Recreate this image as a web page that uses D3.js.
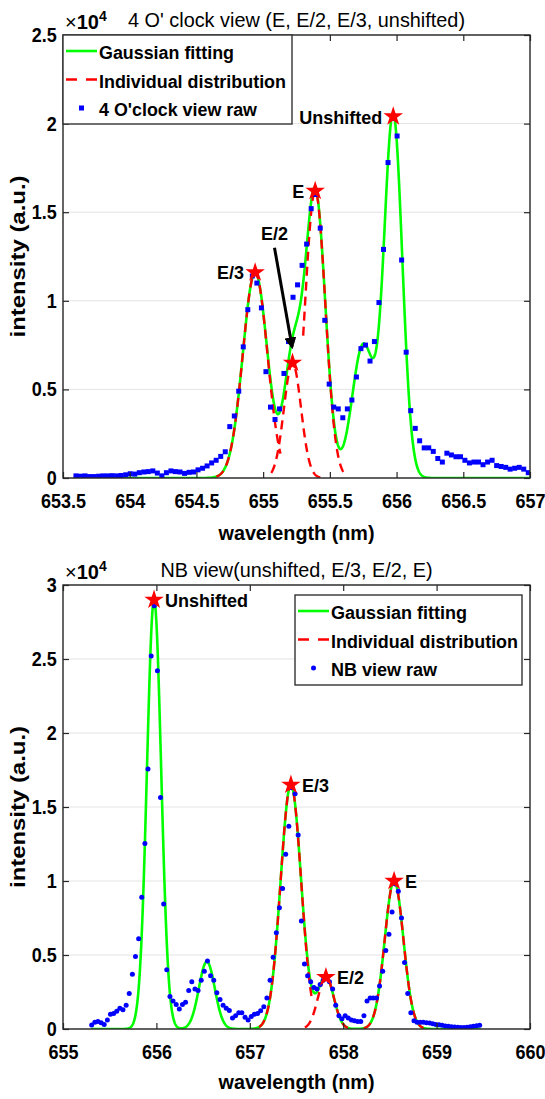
<!DOCTYPE html>
<meta charset="utf-8">
<style>
  body { margin: 0; background: #fff; }
  svg { display: block; font-family: "Liberation Sans", Arial, sans-serif; }
  .tick line { stroke: #262626; stroke-width: 1.2; }
  .tick text { font-weight: bold; font-size: 20px; fill: #000; }
  .grid line { stroke: #e3e3e3; stroke-width: 1; }
  .box { fill: none; stroke: #262626; stroke-width: 1.4; }
  .fit { fill: none; stroke: #00ff00; stroke-width: 2.6; }
  .part { fill: none; stroke: #ff0000; stroke-width: 2.4; stroke-dasharray: 9,6; }
  .legend rect.frame { fill: #fff; stroke: #333; stroke-width: 1.4; }
  .legend text { font-weight: bold; font-size: 18px; }
  .peak { font-weight: bold; font-size: 18px; }
  .title { font-size: 20px; }
  .label { font-weight: bold; font-size: 21px; }
</style>
<body>
<script src="https://d3js.org/d3.v7.min.js"></script>
<script>

// ---- 4 O'clock view (top panel), intensity in units of 1e4 ----
var topWave = [653.597, 653.631, 653.665, 653.699, 653.733, 653.767, 653.800, 653.834, 653.868, 653.902,
  653.936, 653.970, 654.004, 654.038, 654.072, 654.106, 654.139, 654.173, 654.207, 654.241,
  654.275, 654.309, 654.343, 654.377, 654.411, 654.445, 654.478, 654.512, 654.546, 654.580,
  654.614, 654.648, 654.682, 654.716, 654.750, 654.784, 654.817, 654.851, 654.885, 654.919,
  654.953, 654.987, 655.021, 655.055, 655.089, 655.123, 655.156, 655.190, 655.224, 655.258,
  655.292, 655.326, 655.360, 655.394, 655.428, 655.462, 655.495, 655.529, 655.563, 655.597,
  655.631, 655.665, 655.699, 655.733, 655.767, 655.801, 655.834, 655.868, 655.902, 655.936,
  655.970, 656.004, 656.038, 656.072, 656.106, 656.140, 656.173, 656.207, 656.241, 656.275,
  656.309, 656.343, 656.377, 656.411, 656.445, 656.479, 656.512, 656.546, 656.580, 656.614,
  656.648, 656.682, 656.716, 656.750, 656.784, 656.818, 656.851, 656.885, 656.919, 656.953,
  656.987];
var topRaw = [0.012, 0.010, 0.012, 0.008, 0.008, 0.010, 0.012, 0.012, 0.013, 0.012,
  0.014, 0.018, 0.024, 0.022, 0.030, 0.034, 0.036, 0.040, 0.028, 0.012,
  0.030, 0.040, 0.036, 0.034, 0.026, 0.032, 0.034, 0.046, 0.055, 0.068,
  0.085, 0.100, 0.122, 0.148, 0.290, 0.350, 0.490, 0.740, 0.950, 1.140,
  1.100, 0.960, 0.600, 0.400, 0.330, 0.390, 0.590, 0.770, 1.020, 1.090,
  1.200, 1.320, 1.520, 1.600, 1.410, 0.890, 0.530, 0.400, 0.390, 0.340,
  0.390, 0.440, 0.570, 0.730, 0.750, 0.660, 0.770, 0.990, 1.290, 1.780,
  2.030, 1.930, 1.230, 0.710, 0.380, 0.280, 0.210, 0.170, 0.170, 0.150,
  0.110, 0.090, 0.140, 0.130, 0.120, 0.120, 0.100, 0.085, 0.090, 0.090,
  0.075, 0.090, 0.100, 0.070, 0.065, 0.060, 0.050, 0.055, 0.060, 0.050,
  0.030];
// Gaussian components
var topCenter = [654.94, 655.22, 655.39, 655.75, 655.975];
var topAmp = [1.16, 0.65, 1.62, 0.75, 2.04];
var topSigma = [0.092, 0.064, 0.076, 0.083, 0.068];
var topPartLo = [654.65, 655.06, 655.30, null, null];
var topPartHi = [655.13, 655.43, 655.61, null, null];
var topNames = ["E/3", "", "E", "", "Unshifted"];
var topFitSpan = [653.6, 657.0];
var topXTicks = [653.5, 654, 654.5, 655, 655.5, 656, 656.5, 657];
var topYTicks = [0, 0.5, 1, 1.5, 2, 2.5];
var topArrowText = [655.086, 1.343];
var topArrowFrom = [655.085, 1.30];
var topArrowTo = [655.217, 0.74];

// ---- NB view (bottom panel) ----
var nbWave = [655.307, 655.341, 655.374, 655.408, 655.441, 655.475, 655.508, 655.542, 655.575, 655.609,
  655.642, 655.676, 655.709, 655.743, 655.776, 655.810, 655.843, 655.877, 655.910, 655.944,
  655.977, 656.011, 656.044, 656.078, 656.111, 656.145, 656.178, 656.212, 656.245, 656.279,
  656.312, 656.346, 656.379, 656.413, 656.446, 656.480, 656.513, 656.547, 656.580, 656.614,
  656.647, 656.681, 656.714, 656.748, 656.781, 656.815, 656.848, 656.882, 656.915, 656.949,
  656.982, 657.016, 657.049, 657.083, 657.116, 657.150, 657.183, 657.217, 657.250, 657.284,
  657.317, 657.351, 657.384, 657.418, 657.451, 657.485, 657.518, 657.552, 657.585, 657.619,
  657.652, 657.686, 657.719, 657.753, 657.786, 657.820, 657.853, 657.887, 657.920, 657.954,
  657.987, 658.021, 658.054, 658.088, 658.121, 658.155, 658.188, 658.222, 658.255, 658.289,
  658.322, 658.356, 658.389, 658.423, 658.456, 658.490, 658.523, 658.557, 658.590, 658.624,
  658.657, 658.691, 658.724, 658.758, 658.791, 658.825, 658.858, 658.892, 658.925, 658.959,
  658.992, 659.026, 659.059, 659.093, 659.126, 659.160, 659.193, 659.227, 659.260, 659.294,
  659.327, 659.361, 659.394, 659.428, 659.461];
var nbRaw = [0.027, 0.045, 0.050, 0.042, 0.030, 0.060, 0.100, 0.105, 0.120, 0.140,
  0.130, 0.160, 0.240, 0.370, 0.490, 0.610, 0.890, 1.254, 1.757, 2.520,
  2.860, 2.420, 1.565, 0.845, 0.400, 0.220, 0.190, 0.165, 0.135, 0.165,
  0.180, 0.260, 0.320, 0.270, 0.260, 0.330, 0.390, 0.460, 0.360, 0.330,
  0.245, 0.200, 0.160, 0.140, 0.125, 0.075, 0.090, 0.110, 0.110, 0.080,
  0.060, 0.085, 0.100, 0.105, 0.124, 0.150, 0.210, 0.330, 0.485, 0.650,
  0.820, 0.950, 1.180, 1.370, 1.630, 1.590, 1.310, 0.730, 0.440, 0.360,
  0.320, 0.280, 0.270, 0.300, 0.330, 0.340, 0.320, 0.270, 0.160, 0.090,
  0.070, 0.090, 0.075, 0.060, 0.055, 0.050, 0.050, 0.090, 0.190, 0.210,
  0.210, 0.210, 0.290, 0.390, 0.530, 0.640, 0.790, 0.980, 0.930, 0.750,
  0.450, 0.240, 0.110, 0.055, 0.045, 0.045, 0.045, 0.042, 0.040, 0.035,
  0.030, 0.028, 0.025, 0.020, 0.018, 0.015, 0.014, 0.012, 0.010, 0.010,
  0.012, 0.015, 0.018, 0.022, 0.026];
var nbCenter = [655.975, 656.54, 657.44, 657.815, 658.545];
var nbAmp = [2.9, 0.455, 1.65, 0.35, 1.0];
var nbSigma = [0.076, 0.085, 0.11, 0.085, 0.10];
var nbPartLo = [null, null, 657.10, 657.59, 658.22];
var nbPartHi = [null, null, 657.67, 658.05, 658.86];
var nbNames = ["Unshifted", "", "E/3", "E/2", "E"];
var nbFitSpan = [655.3, 659.47];
var nbXTicks = [655, 656, 657, 658, 659, 660];
var nbYTicks = [0, 0.5, 1, 1.5, 2, 2.5, 3];

var legendNames = ["Gaussian fitting", "Individual distribution"];

var svg = d3.select("body").append("svg")
    .attr("width", 545)
    .attr("height", 1099);

function gauss(a, c, s, w) {
  return a * Math.exp(-(w - c) * (w - c) / (2 * s * s));
}

function drawPanel(p) {
  var x = p.x, y = p.y;
  var g = svg.append("g");
  var x0 = x.range()[0], x1 = x.range()[1];
  var yb = y.range()[0], yt = y.range()[1];

  // horizontal grid
  g.append("g").attr("class", "grid")
    .selectAll("line")
    .data(p.yTicks)
    .enter().append("line")
      .attr("x1", x0).attr("x2", x1)
      .attr("y1", function(d) { return y(d); })
      .attr("y2", function(d) { return y(d); });

  g.append("clipPath").attr("id", p.id)
    .append("rect")
      .attr("x", x0).attr("y", yt)
      .attr("width", x1 - x0).attr("height", yb - yt);

  var plot = g.append("g").attr("clip-path", "url(#" + p.id + ")");

  var line = d3.line()
      .x(function(d) { return x(d[0]); })
      .y(function(d) { return y(d[1]); });

  // total fit
  var fitPts = d3.range(p.span[0], p.span[1] + 0.0001, 0.002).map(function(w) {
    var v = 0;
    for (var i = 0; i < p.center.length; i++) v += gauss(p.amp[i], p.center[i], p.sigma[i], w);
    return [w, v];
  });
  plot.append("path").attr("class", "fit").attr("d", line(fitPts));

  // individual components
  p.center.forEach(function(c, i) {
    if (p.lo[i] == null) return;
    var pts = d3.range(p.lo[i], p.hi[i] + 0.0001, 0.002).map(function(w) {
      return [w, gauss(p.amp[i], c, p.sigma[i], w)];
    });
    plot.append("path").attr("class", "part").attr("d", line(pts));
  });

  // raw data
  var raw = p.wave.map(function(w, i) { return [w, p.raw[i]]; });
  if (p.square) {
    plot.selectAll(".raw")
      .data(raw)
      .enter().append("rect")
        .attr("class", "raw")
        .attr("x", function(d) { return x(d[0]) - 2.5; })
        .attr("y", function(d) { return y(d[1]) - 2.5; })
        .attr("width", 5).attr("height", 5)
        .attr("fill", "#0000ff");
  } else {
    plot.selectAll(".raw")
      .data(raw)
      .enter().append("circle")
        .attr("class", "raw")
        .attr("cx", function(d) { return x(d[0]); })
        .attr("cy", function(d) { return y(d[1]); })
        .attr("r", 2.5)
        .attr("fill", "#0000ff");
  }

  // peak stars
  var star = d3.symbol().type(d3.symbolStar).size(118);
  p.center.forEach(function(c, i) {
    if (!p.names[i] && !(p.id == "c1" && i == 1)) return;
    g.append("path")
      .attr("d", star)
      .attr("transform", "translate(" + x(c) + "," + y(p.amp[i]) + ")")
      .attr("fill", "#ff0000");
    if (!p.names[i]) return;
    g.append("text")
      .attr("class", "peak")
      .attr("x", x(c) + (p.labelLeft ? -11 : 11))
      .attr("y", y(p.amp[i]) + 7)
      .attr("text-anchor", p.labelLeft ? "end" : "start")
      .text(p.names[i]);
  });

  // box and ticks
  g.append("rect").attr("class", "box")
    .attr("x", x0).attr("y", yt)
    .attr("width", x1 - x0).attr("height", yb - yt);

  var ax = g.append("g")
      .attr("transform", "translate(0," + yb + ")")
      .call(d3.axisBottom(x).tickValues(p.xTicks).tickSizeInner(-6).tickSizeOuter(0).tickPadding(16)
        .tickFormat(d3.format("")));
  g.append("g")
      .attr("transform", "translate(0," + yt + ")")
      .call(d3.axisTop(x).tickValues(p.xTicks).tickSizeInner(-6).tickSizeOuter(0).tickFormat(""));
  var ay = g.append("g")
      .attr("transform", "translate(" + x0 + ",0)")
      .call(d3.axisLeft(y).tickValues(p.yTicks).tickSizeInner(-6).tickSizeOuter(0).tickPadding(7)
        .tickFormat(d3.format("")));
  g.append("g")
      .attr("transform", "translate(" + x1 + ",0)")
      .call(d3.axisRight(y).tickValues(p.yTicks).tickSizeInner(-6).tickSizeOuter(0).tickFormat(""));
  g.selectAll(".domain").remove();
  g.selectAll("g").attr("font-size", null).attr("font-family", null);
  ax.selectAll("text").attr("transform", "scale(0.9,1)");
  ay.selectAll("text").attr("transform", "scale(0.9,1)");

  // exponent
  var ex = g.append("text").attr("x", x0 + 2).attr("y", yt - 6);
  ex.append("tspan").attr("font-size", "20px").text("\u00d7");
  ex.append("tspan").attr("font-size", "20px").attr("font-weight", "bold").text("10");
  ex.append("tspan").attr("font-size", "14px").attr("font-weight", "bold").attr("dy", -8).text("4");

  // title and axis labels
  var xc = (x0 + x1) / 2;
  g.append("text").attr("class", "title")
    .attr("x", xc).attr("y", yt - 8)
    .attr("text-anchor", "middle")
    .attr("textLength", p.titleLen).attr("lengthAdjust", "spacingAndGlyphs")
    .text(p.title);
  g.append("text").attr("class", "label")
    .attr("x", xc).attr("y", yb + p.xLabelGap)
    .attr("text-anchor", "middle")
    .attr("textLength", 156).attr("lengthAdjust", "spacingAndGlyphs")
    .text("wavelength (nm)");
  g.append("text").attr("class", "label")
    .attr("transform", "translate(25," + (yb + yt) / 2 + ") rotate(-90)")
    .attr("text-anchor", "middle")
    .attr("textLength", 162).attr("lengthAdjust", "spacingAndGlyphs")
    .text("intensity (a.u.)");

  // legend
  var L = p.legend;
  var lg = g.append("g").attr("class", "legend")
      .attr("transform", "translate(" + L.x + "," + L.y + ")");
  lg.append("rect").attr("class", "frame")
    .attr("width", L.w).attr("height", L.h);
  var rows = [13, 41.5, 70];
  lg.append("line").attr("class", "fit")
    .attr("x1", 3).attr("x2", 34).attr("y1", rows[0] + 3).attr("y2", rows[0] + 3);
  lg.append("line").attr("class", "part")
    .attr("x1", 3).attr("x2", 34).attr("y1", rows[1] + 3).attr("y2", rows[1] + 3)
    .style("stroke-dasharray", "11,9");
  if (p.square) {
    lg.append("rect").attr("x", 16).attr("y", rows[2] + 0.5).attr("width", 5).attr("height", 5)
      .attr("fill", "#0000ff");
  } else {
    lg.append("circle").attr("cx", 18.5).attr("cy", rows[2] + 3).attr("r", 2.5)
      .attr("fill", "#0000ff");
  }
  var names = legendNames.concat([p.rawName]);
  lg.selectAll("text.item")
    .data(names)
    .enter().append("text")
      .attr("class", "item")
      .attr("x", 36)
      .attr("y", function(d, i) { return rows[i] + 11; })
      .attr("textLength", function(d, i) { return p.legendLens[i]; })
      .attr("lengthAdjust", "spacingAndGlyphs")
      .text(function(d) { return d; });

  return g;
}

var xTop = d3.scaleLinear().domain([653.5, 657]).range([63, 530]);
var yTop = d3.scaleLinear().domain([0, 2.5]).range([478, 35]);
var gTop = drawPanel({
  id: "c1", x: xTop, y: yTop, square: true, labelLeft: true,
  wave: topWave, raw: topRaw,
  center: topCenter, amp: topAmp, sigma: topSigma, lo: topPartLo, hi: topPartHi,
  names: topNames, span: topFitSpan, xTicks: topXTicks, yTicks: topYTicks,
  title: "4 O' clock view (E, E/2, E/3, unshifted)", titleLen: 337, xLabelGap: 62,
  rawName: "4 O'clock view raw", legendLens: [135, 187, 158],
  legend: { x: 63, y: 35, w: 229, h: 89 }
});

// E/2 annotation with arrow
svg.append("defs").append("marker")
    .attr("id", "head")
    .attr("viewBox", "0 0 10 10")
    .attr("refX", 8).attr("refY", 5)
    .attr("markerWidth", 4).attr("markerHeight", 4)
    .attr("orient", "auto")
  .append("path")
    .attr("d", "M0,0L10,5L0,10Z")
    .attr("fill", "#000");
gTop.append("line")
    .attr("x1", xTop(topArrowFrom[0])).attr("y1", yTop(topArrowFrom[1]))
    .attr("x2", xTop(topArrowTo[0])).attr("y2", yTop(topArrowTo[1]))
    .attr("stroke", "#000").attr("stroke-width", 3)
    .attr("marker-end", "url(#head)");
gTop.append("text").attr("class", "peak")
    .attr("x", xTop(topArrowText[0])).attr("y", yTop(topArrowText[1]))
    .attr("text-anchor", "middle")
    .text("E/2");

var xNb = d3.scaleLinear().domain([655, 660]).range([63, 530]);
var yNb = d3.scaleLinear().domain([0, 3]).range([1029, 585]);
drawPanel({
  id: "c2", x: xNb, y: yNb, square: false, labelLeft: false,
  wave: nbWave, raw: nbRaw,
  center: nbCenter, amp: nbAmp, sigma: nbSigma, lo: nbPartLo, hi: nbPartHi,
  names: nbNames, span: nbFitSpan, xTicks: nbXTicks, yTicks: nbYTicks,
  title: "NB view(unshifted, E/3, E/2, E)", titleLen: 272, xLabelGap: 60,
  rawName: "NB view raw", legendLens: [136, 187, 106],
  legend: { x: 295, y: 595, w: 227, h: 90 }
});

</script>
